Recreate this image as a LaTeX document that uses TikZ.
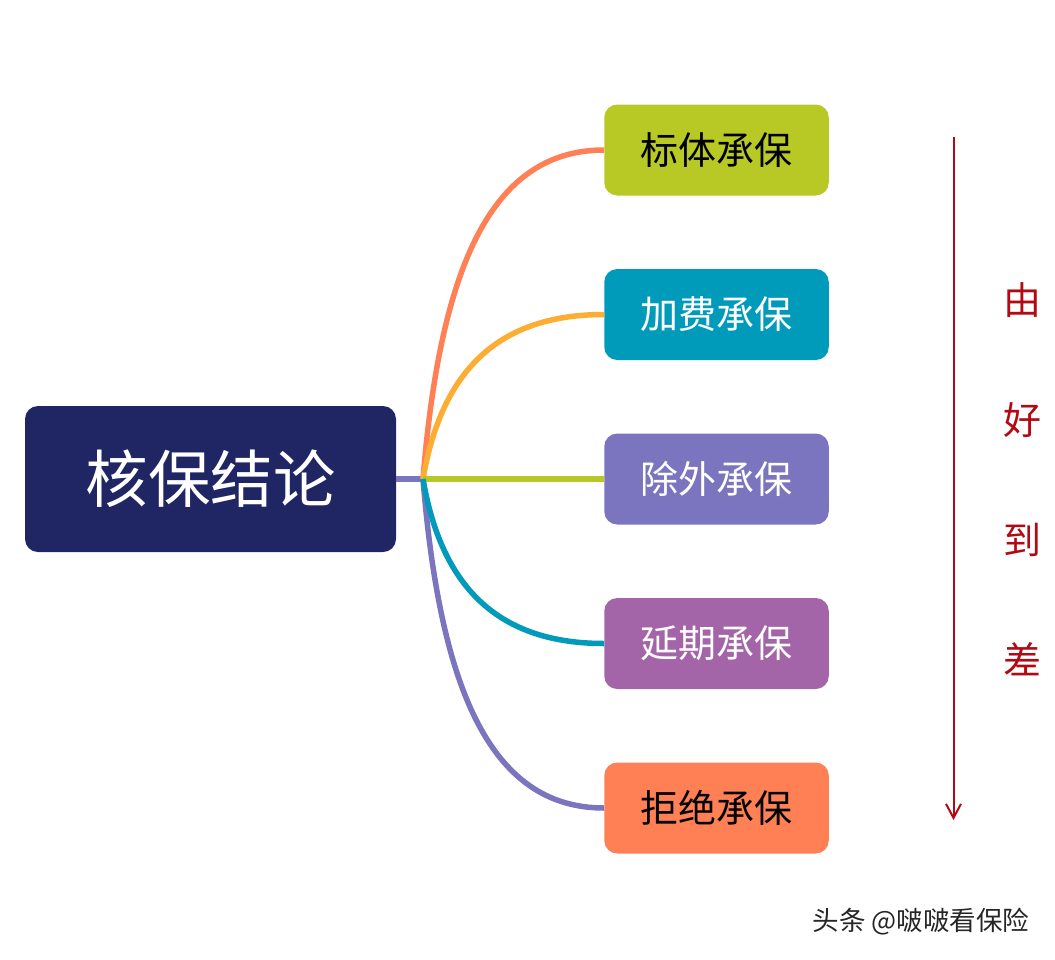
\documentclass[tikz,border=0pt]{standalone}
\usepackage{fontspec}
\setmainfont{Noto Sans CJK SC}
\usetikzlibrary{positioning,arrows.meta}
\definecolor{rootblue}{RGB}{32,38,100}
\definecolor{leafgreen}{RGB}{184,200,36}
\definecolor{leafteal}{RGB}{0,155,187}
\definecolor{leafviolet}{RGB}{122,117,190}
\definecolor{leafpurple}{RGB}{163,101,168}
\definecolor{leaforange}{RGB}{255,128,84}
\definecolor{linkyellow}{RGB}{253,174,50}
\definecolor{notered}{RGB}{178,10,20}
\tikzset{
    leaf/.style={rounded corners=13pt, minimum width=224.5pt, minimum height=91pt, inner sep=0pt, font=\fontsize{38}{38}\selectfont},
    link/.style={line width=5.5pt},
    note/.style={text=notered, font=\fontsize{38}{38}\selectfont, inner sep=0pt},
}
\begin{document}
\begin{tikzpicture}[x=1pt, y=-1pt]
    \useasboundingbox (0, 0) rectangle (1055, 959);
    % root
    \node[rounded corners=13pt, fill=rootblue, text=white, minimum width=371pt, minimum height=146pt, inner sep=0pt, font=\fontsize{62.5}{62.5}\selectfont] (root) at (210.5, 479) {核保结论};
    \coordinate (fork) at (423, 479);
    % leaves
    \node[leaf, fill=leafgreen, text=black] (standard) at (716.5, 150) {标体承保};
    \node[leaf, fill=leafteal, text=white] (loading) at (716.5, 314.5) {加费承保};
    \node[leaf, fill=leafviolet, text=white] (exclusion) at (716.5, 479) {除外承保};
    \node[leaf, fill=leafpurple, text=white] (postpone) at (716.5, 643.5) {延期承保};
    \node[leaf, fill=leaforange, text=black] (decline) at (716.5, 808) {拒绝承保};
    % links
    \draw[link, leafviolet] (root.east) -- (fork);
    \draw[link, leaforange] (fork) .. controls (440, 270) and (490, 150) .. (standard.west);
    \draw[link, linkyellow] (fork) .. controls (440, 380) and (490, 314.5) .. (loading.west);
    \draw[link, leafgreen] (fork) -- (exclusion.west);
    \draw[link, leafviolet] (fork) .. controls (440, 688) and (490, 808) .. (decline.west);
    \draw[link, leafteal] (fork) .. controls (440, 578) and (490, 643.5) .. (postpone.west);
    % order arrow
    \coordinate (top) at (953.5, 137);
    \coordinate (bottom) at (953.5, 820);
    \draw[notered, line width=2pt, -{Straight Barb[length=14pt, width=15pt]}] (top) -- (bottom);
    \node[note] (you) at (1022, 300) {由};
    \node[note] (hao) at (1022, 420) {好};
    \node[note] (dao) at (1022, 540) {到};
    \node[note] (cha) at (1022, 659) {差};
    % watermark
    \node[font=\fontsize{26.5}{26.5}\selectfont, text=black!85, inner sep=0pt] (mark) at (921, 922) {头条 @啵啵看保险};
\end{tikzpicture}
\end{document}
